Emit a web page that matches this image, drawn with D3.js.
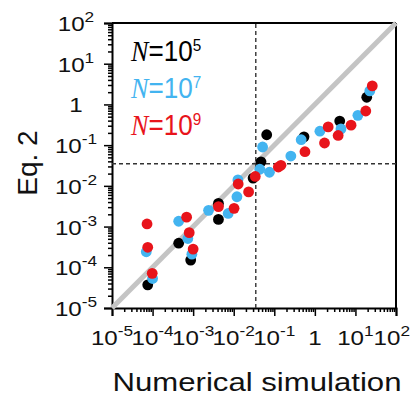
<!DOCTYPE html>
<html>
<head>
<meta charset="utf-8">
<script src="https://cdn.jsdelivr.net/npm/d3@7"></script>
<style>
  body { margin: 0; background: #fff; }
  text { font-family: "Liberation Sans", Arial, sans-serif; }
</style>
</head>
<body>
<div id="chart"></div>
<script>

// Numerical simulation (x) vs Eq. 2 (y), one pair of arrays per N
var simN5 = [7.6e-5, 4.4e-4, 8.7e-4, 4.2e-3, 4.2e-3, 0.030, 0.047, 0.065, 0.54, 4.1, 19];
var eqN5  = [3.7e-5, 3.9e-4, 1.5e-4, 3.7e-3, 1.5e-3, 0.0155, 0.039, 0.18, 0.16, 0.39, 1.5];

var simN7 = [7.0e-5, 1.0e-4, 4.4e-4, 7.4e-4, 9.3e-4, 2.4e-3, 7.3e-3, 0.012, 0.0127, 0.044,
             0.0515, 0.076, 0.256, 0.46, 1.33, 4.4, 11.5, 22.6];
var eqN7  = [2.4e-4, 5.3e-5, 1.35e-3, 5.1e-4, 2.1e-4, 2.5e-3, 2.1e-3, 5.4e-3, 0.014, 0.0256,
             0.090, 0.0216, 0.054, 0.136, 0.22, 0.25, 0.54, 2.15];

var simN9 = [7.3e-5, 7.6e-5, 9.8e-5, 6.9e-4, 8.0e-4, 1.0e-3, 4.2e-3, 0.0102, 0.0129, 0.0233,
             0.034, 0.126, 0.146, 0.57, 1.73, 2.13, 3.75, 7.8, 18, 26];
var eqN9  = [1.16e-3, 3.1e-4, 7.1e-5, 1.7e-3, 7.1e-4, 2.8e-4, 3.1e-3, 2.8e-3, 0.0111, 7.1e-3,
             0.017, 0.029, 0.032, 0.069, 0.113, 0.28, 0.173, 0.31, 0.69, 2.85];

var seriesNames = ["N5", "N7", "N9"];
var legendExp = ["5", "7", "9"];
var decadeExp = [-5, -4, -3, -2, -1, 0, 1, 2];
var threshold = 0.035;

var width = 411,
    height = 398,
    margin = {top: 23, right: 15, bottom: 90, left: 112};

var colors = {N5: "#000000", N7: "#43b4f0", N9: "#e8141b"};

var svg = d3.select("#chart").append("svg")
  .attr("width", width)
  .attr("height", height);

var x = d3.scaleLog()
  .domain([1e-5, 1e2])
  .range([margin.left, width - margin.right]);

var y = d3.scaleLog()
  .domain([1e-5, 1e2])
  .range([height - margin.bottom, margin.top]);

var majors = decadeExp.map(function(e) { return Math.pow(10, e); });
var minors = [];
decadeExp.slice(0, -1).forEach(function(e) {
  for (var k = 2; k < 10; k++) minors.push(k * Math.pow(10, e));
});

// frame lines on top and right
svg.append("line")
  .attr("x1", x.range()[0]).attr("x2", x.range()[1])
  .attr("y1", y.range()[1]).attr("y2", y.range()[1])
  .attr("stroke", "#000").attr("stroke-width", 2);
svg.append("line")
  .attr("x1", x.range()[1]).attr("x2", x.range()[1])
  .attr("y1", y.range()[0]).attr("y2", y.range()[1])
  .attr("stroke", "#000").attr("stroke-width", 2);

// minor ticks
svg.append("g")
  .attr("transform", "translate(" + margin.left + ",0)")
  .call(d3.axisLeft(y).tickValues(minors).tickSize(4).tickFormat(""))
  .call(function(g) { g.select(".domain").remove(); });
svg.append("g")
  .attr("transform", "translate(0," + (height - margin.bottom) + ")")
  .call(d3.axisBottom(x).tickValues(minors).tickSize(4).tickFormat(""))
  .call(function(g) { g.select(".domain").remove(); });

// major ticks + axis lines
var yAxis = svg.append("g")
  .attr("transform", "translate(" + margin.left + ",0)")
  .call(d3.axisLeft(y).tickValues(majors).tickSize(8).tickFormat(""));
var xAxis = svg.append("g")
  .attr("transform", "translate(0," + (height - margin.bottom) + ")")
  .call(d3.axisBottom(x).tickValues(majors).tickSize(8).tickFormat(""));

svg.selectAll(".domain").attr("stroke-width", 2);
svg.selectAll(".tick line").attr("stroke-width", 1.5);

// tick labels, "10" with superscript exponent
function tickLabel(sel) {
  sel.each(function(e) {
    var t = d3.select(this);
    if (e === 0) {
      t.append("tspan").text("1");
    } else {
      t.append("tspan").text("10");
      t.append("tspan").attr("font-size", "15px").attr("dy", -9).text(e < 0 ? "-" + (-e) : e);
    }
  });
}

svg.append("g").selectAll("text")
  .data(decadeExp)
  .enter().append("text")
  .attr("transform", function(e) {
    return "translate(76," + (y(Math.pow(10, e)) + 8) + ") scale(1.15,1)";
  })
  .attr("text-anchor", "middle")
  .attr("font-size", "21px")
  .attr("fill", "#111")
  .call(tickLabel);

// last x label is pushed in so it stays inside the page
svg.append("g").selectAll("text")
  .data(decadeExp)
  .enter().append("text")
  .attr("transform", function(e, i) {
    var px = i === decadeExp.length - 1 ? width - 1 : x(Math.pow(10, e));
    return "translate(" + px + ",345) scale(1.15,1)";
  })
  .attr("text-anchor", function(e, i) { return i === decadeExp.length - 1 ? "end" : "middle"; })
  .attr("font-size", "21px")
  .attr("fill", "#111")
  .call(tickLabel);

// axis titles
svg.append("text")
  .attr("x", 257).attr("y", 391)
  .attr("text-anchor", "middle")
  .attr("font-size", "26px")
  .attr("textLength", 289)
  .attr("lengthAdjust", "spacingAndGlyphs")
  .attr("fill", "#111")
  .text("Numerical simulation");

svg.append("text")
  .attr("transform", "translate(37,163) rotate(-90)")
  .attr("text-anchor", "middle")
  .attr("font-size", "28px")
  .attr("fill", "#111")
  .text("Eq. 2");

// y = x reference line
svg.append("line")
  .attr("x1", x(1e-5)).attr("y1", y(1e-5))
  .attr("x2", x(1e2)).attr("y2", y(1e2))
  .attr("stroke", "#c4c4c4")
  .attr("stroke-width", 5);

// threshold cross-hairs
svg.append("line")
  .attr("x1", x(threshold)).attr("x2", x(threshold))
  .attr("y1", y.range()[0]).attr("y2", y.range()[1])
  .attr("stroke", "#333").attr("stroke-width", 1.4)
  .attr("stroke-dasharray", "4,3");
svg.append("line")
  .attr("x1", x.range()[0]).attr("x2", x.range()[1])
  .attr("y1", y(threshold)).attr("y2", y(threshold))
  .attr("stroke", "#333").attr("stroke-width", 1.4)
  .attr("stroke-dasharray", "4,3");

// points
var series = [
  {name: "N5", xs: simN5, ys: eqN5},
  {name: "N7", xs: simN7, ys: eqN7},
  {name: "N9", xs: simN9, ys: eqN9}
];

series.forEach(function(s) {
  svg.append("g").selectAll("circle")
    .data(s.xs.map(function(v, i) { return [v, s.ys[i]]; }))
    .enter().append("circle")
    .attr("cx", function(d) { return x(d[0]); })
    .attr("cy", function(d) { return y(d[1]); })
    .attr("r", 5.4)
    .attr("fill", colors[s.name]);
});

// legend
var legend = svg.append("g").selectAll("text")
  .data(seriesNames)
  .enter().append("text")
  .attr("transform", function(d, i) {
    return "translate(131," + (61 + i * 37) + ") scale(0.9,1)";
  })
  .attr("font-size", "29px")
  .attr("fill", function(d) { return colors[d]; });

legend.append("tspan")
  .attr("font-family", "'Liberation Serif', 'Times New Roman', serif")
  .attr("font-style", "italic")
  .text("N");
legend.append("tspan").text("=10");
legend.append("tspan")
  .attr("font-size", "17px")
  .attr("dy", -10)
  .text(function(d, i) { return legendExp[i]; });

</script>
</body>
</html>
